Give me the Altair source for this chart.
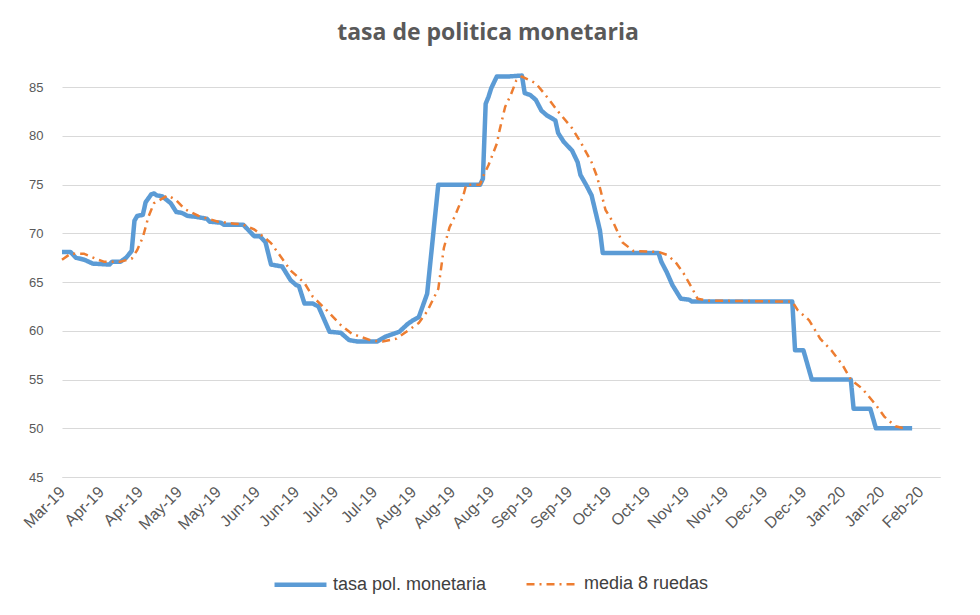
import altair as alt
import pandas as pd

SERIES = ["tasa pol. monetaria", "media 8 ruedas"]

blue_dates = [
    "2019-03-30", "2019-04-02", "2019-04-04", "2019-04-07", "2019-04-10", "2019-04-16",
    "2019-04-17", "2019-04-20", "2019-04-22", "2019-04-24", "2019-04-25", "2019-04-26",
    "2019-04-28", "2019-04-29", "2019-05-01", "2019-05-02", "2019-05-03", "2019-05-05",
    "2019-05-08", "2019-05-10", "2019-05-12", "2019-05-14", "2019-05-17", "2019-05-21",
    "2019-05-22", "2019-05-26", "2019-05-27", "2019-06-03", "2019-06-05", "2019-06-07",
    "2019-06-09", "2019-06-11", "2019-06-13", "2019-06-15", "2019-06-17", "2019-06-20",
    "2019-06-22", "2019-06-23", "2019-06-25", "2019-06-28", "2019-06-30", "2019-07-04",
    "2019-07-08", "2019-07-11", "2019-07-14", "2019-07-21", "2019-07-24", "2019-07-26",
    "2019-07-29", "2019-08-01", "2019-08-03", "2019-08-05", "2019-08-08", "2019-08-12",
    "2019-08-27", "2019-08-28", "2019-08-29", "2019-08-30", "2019-08-31", "2019-09-02",
    "2019-09-06", "2019-09-11", "2019-09-12", "2019-09-14", "2019-09-16", "2019-09-18",
    "2019-09-20", "2019-09-23", "2019-09-24", "2019-09-26", "2019-09-29", "2019-10-01",
    "2019-10-02", "2019-10-04", "2019-10-06", "2019-10-07", "2019-10-09", "2019-10-10",
    "2019-10-30", "2019-10-31", "2019-11-02", "2019-11-04", "2019-11-07", "2019-11-10",
    "2019-11-11", "2019-12-17", "2019-12-18", "2019-12-21", "2019-12-24", "2020-01-07",
    "2020-01-08", "2020-01-14", "2020-01-16", "2020-01-29",
]
blue_values = [
    68.1, 68.1, 67.5, 67.3, 66.9, 66.8,
    67.1, 67.1, 67.5, 68.2, 71.3, 71.8,
    71.9, 73.2, 74.0, 74.1, 73.9, 73.8,
    73.1, 72.2, 72.1, 71.8, 71.7, 71.5,
    71.2, 71.1, 70.9, 70.9, 70.3, 69.7,
    69.7, 69.1, 66.8, 66.7, 66.6, 65.2,
    64.7, 64.6, 62.8, 62.8, 62.5, 59.9,
    59.8, 59.05, 58.9, 58.9, 59.4, 59.6,
    59.9, 60.7, 61.1, 61.4, 63.8, 75.0,
    75.0, 75.6, 83.3, 84.0, 84.9, 86.1,
    86.1, 86.2, 84.4, 84.2, 83.7, 82.6,
    82.1, 81.6, 80.3, 79.4, 78.5, 77.3,
    76.0, 75.0, 73.9, 72.7, 70.3, 68.0,
    68.0, 67.1, 66.0, 64.7, 63.3, 63.2,
    63.0, 63.0, 58.0, 58.0, 55.0, 55.0,
    52.0, 52.0, 50.0, 50.0,
]

orange_dates = [
    "2019-03-30", "2019-04-02", "2019-04-07", "2019-04-12", "2019-04-14", "2019-04-20",
    "2019-04-24", "2019-04-26", "2019-04-28", "2019-04-30", "2019-05-02", "2019-05-07",
    "2019-05-10", "2019-05-13", "2019-05-18", "2019-05-25", "2019-05-31", "2019-06-03",
    "2019-06-07", "2019-06-11", "2019-06-13", "2019-06-16", "2019-06-20", "2019-06-25",
    "2019-06-28", "2019-07-03", "2019-07-08", "2019-07-12", "2019-07-19", "2019-07-23",
    "2019-07-28", "2019-08-01", "2019-08-05", "2019-08-08", "2019-08-12", "2019-08-14",
    "2019-08-16", "2019-08-18", "2019-08-21", "2019-08-22", "2019-08-27", "2019-08-28",
    "2019-08-30", "2019-09-02", "2019-09-03", "2019-09-05", "2019-09-07", "2019-09-09",
    "2019-09-11", "2019-09-16", "2019-09-20", "2019-09-24", "2019-09-29", "2019-10-02",
    "2019-10-06", "2019-10-08", "2019-10-11", "2019-10-14", "2019-10-17", "2019-10-21",
    "2019-10-30", "2019-11-02", "2019-11-05", "2019-11-08", "2019-11-11", "2019-11-13",
    "2019-11-17", "2019-12-17", "2019-12-19", "2019-12-23", "2019-12-27", "2019-12-31",
    "2020-01-04", "2020-01-07", "2020-01-11", "2020-01-16", "2020-01-19", "2020-01-23",
    "2020-01-26",
]
orange_values = [
    67.3, 67.9, 67.9, 67.3, 67.1, 67.1,
    67.4, 68.3, 69.6, 71.7, 73.1, 73.9,
    73.4, 72.5, 71.8, 71.2, 71.0, 70.9,
    70.4, 69.5, 69.0, 67.8, 66.2, 64.9,
    63.5, 62.1, 60.6, 59.7, 59.0, 58.9,
    59.2, 60.0, 60.8, 62.0, 64.3, 68.5,
    70.6, 71.8, 73.9, 75.0, 75.0, 75.8,
    77.0, 79.2, 80.6, 83.0, 84.2, 85.7,
    86.1, 85.4, 84.0, 82.5, 80.8, 79.4,
    77.3, 75.8, 72.4, 71.0, 69.1, 68.2,
    68.1, 67.8, 67.1, 65.9, 64.4, 63.3,
    63.1, 63.0, 62.1, 61.1, 59.2, 58.0,
    56.5, 55.0, 54.1, 52.4, 51.2, 50.2,
    50.0,
]

tick_dates = [
    (2019, 3, 30), (2019, 4, 13), (2019, 4, 27), (2019, 5, 11), (2019, 5, 25),
    (2019, 6, 8), (2019, 6, 22), (2019, 7, 6), (2019, 7, 20), (2019, 8, 3),
    (2019, 8, 17), (2019, 8, 31), (2019, 9, 14), (2019, 9, 28), (2019, 10, 12),
    (2019, 10, 26), (2019, 11, 9), (2019, 11, 23), (2019, 12, 7), (2019, 12, 21),
    (2020, 1, 4), (2020, 1, 18), (2020, 2, 1),
]
y_ticks = [45, 50, 55, 60, 65, 70, 75, 80, 85]

df = pd.concat([
    pd.DataFrame({"date": blue_dates, "value": blue_values, "serie": SERIES[0], "ord": 0}),
    pd.DataFrame({"date": orange_dates, "value": orange_values, "serie": SERIES[1], "ord": 1}),
], ignore_index=True)


def dt(t):
    return alt.DateTime(year=t[0], month=t[1], date=t[2], utc=True)


FONT = "Liberation Sans"

chart = alt.Chart(df).mark_line(strokeJoin="round", strokeCap="butt").encode(
    x=alt.X(
        "date:T",
        scale=alt.Scale(type="utc", domain=[dt((2019, 3, 30)), dt((2020, 2, 8))]),
        axis=alt.Axis(
            values=[dt(t) for t in tick_dates],
            labelExpr="utcFormat(datum.value, '%b-%y')",
            title=None,
            grid=False,
            ticks=False,
            tickSize=0,
            domainColor="#d9d9d9",
            labelAngle=-45,
            labelAlign="right",
            labelBaseline="middle",
            labelPadding=12,
            labelFontSize=16,
            labelFont=FONT,
            labelColor="#595959",
            labelOverlap=False,
            labelBound=False,
            labelFlush=False,
        ),
    ),
    y=alt.Y(
        "value:Q",
        scale=alt.Scale(domain=[45, 88], nice=False, zero=False),
        axis=alt.Axis(
            values=y_ticks,
            title=None,
            grid=True,
            gridColor="#d9d9d9",
            gridWidth=1,
            domain=False,
            ticks=False,
            tickSize=0,
            labelPadding=19,
            labelFontSize=13,
            labelFont=FONT,
            labelColor="#595959",
        ),
    ),
    color=alt.Color(
        "serie:N",
        scale=alt.Scale(domain=SERIES, range=["#5B9BD5", "#ED7D31"]),
        legend=alt.Legend(
            orient="none",
            legendX=210,
            legendY=498,
            direction="horizontal",
            title=None,
            symbolType="stroke",
            symbolSize=2700,
            labelFontSize=18,
            labelFont=FONT,
            labelColor="#404040",
            labelLimit=400,
            labelOffset=4,
            columnPadding=34,
        ),
    ),
    strokeDash=alt.StrokeDash(
        "serie:N",
        scale=alt.Scale(domain=SERIES, range=[[1, 0], [8, 5, 2, 5]]),
        legend=None,
    ),
    strokeWidth=alt.StrokeWidth(
        "serie:N",
        scale=alt.Scale(domain=SERIES, range=[4.5, 2.5]),
        legend=None,
    ),
    order="ord:Q",
).properties(
    width=878,
    height=419,
    padding={"left": 62, "top": 58, "right": 40, "bottom": 138},
    autosize=alt.AutoSizeParams(type="none"),
    title=alt.TitleParams(
        "tasa de politica monetaria",
        fontSize=23,
        font="Open Sans",
        fontWeight="bold",
        color="#595959",
        offset=13,
        dx=-13,
        anchor="middle",
    ),
).configure(background="white").configure_view(stroke=None)

chart.save("out.html", embed_options={"renderer": "svg", "actions": False})
